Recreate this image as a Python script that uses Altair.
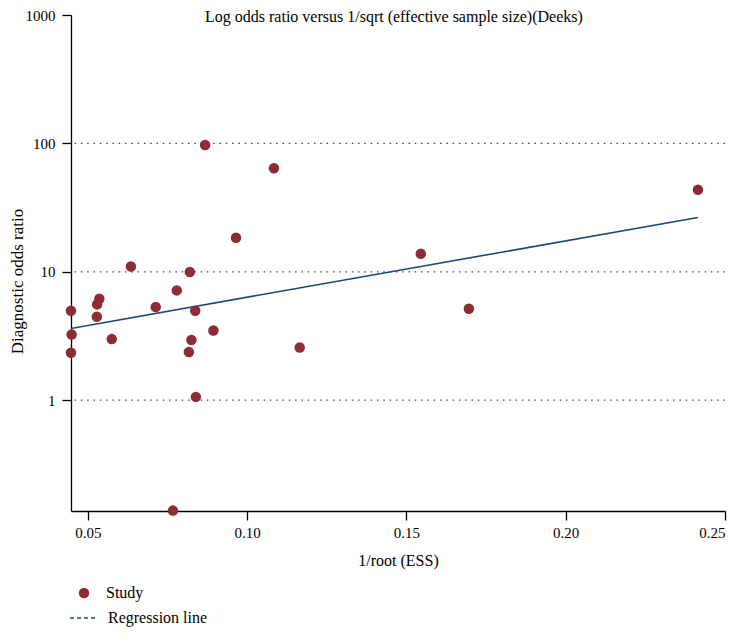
import altair as alt
import pandas as pd

# Study points: x = 1/root(ESS), y = diagnostic odds ratio
study_x = [0.0868, 0.1084, 0.0965, 0.0635, 0.0820, 0.0779, 0.0536, 0.0529,
           0.0713, 0.0447, 0.0837, 0.0528, 0.0449, 0.0575, 0.0894, 0.0825,
           0.0447, 0.0817, 0.1165, 0.0839, 0.0767, 0.1545, 0.1696, 0.2415]
study_y = [97.2, 64.0, 18.4, 11.0, 9.95, 7.16, 6.16, 5.57,
           5.31, 4.97, 4.97, 4.46, 3.25, 2.99, 3.49, 2.94,
           2.34, 2.37, 2.57, 1.06, 0.138, 13.8, 5.15, 43.5]

# Regression line end points
reg_x = [0.0447, 0.2415]
reg_y = [3.62, 26.5]

grid_values = [1, 10, 100]
y_ticks = [1, 10, 100, 1000]
x_ticks = [0.05, 0.10, 0.15, 0.20, 0.25]

x_domain = [0.0447, 0.25]
y_domain = [0.137, 1000]

FONT = "Liberation Serif"
POINT_COLOR = "#8E2C36"
LINE_COLOR = "#1B4A72"

pts = pd.DataFrame({"x": study_x, "y": study_y, "series": ["Study"] * len(study_x)})
reg = pd.DataFrame({"x": reg_x, "y": reg_y, "series": ["Regression line"] * len(reg_x)})
grid = pd.DataFrame({"y": grid_values})

xscale = alt.Scale(domain=x_domain, nice=False, zero=False)
yscale = alt.Scale(type="log", domain=y_domain, nice=False)

xaxis = alt.Axis(values=x_ticks, format=".2f", title="1/root (ESS)", grid=False,
                 tickSize=9, labelPadding=5, titlePadding=12)
yaxis = alt.Axis(values=y_ticks, format="d", title="Diagnostic odds ratio", grid=False,
                 tickSize=9, labelPadding=7, titleFontSize=17,
                 titleX=-45, titleY=266, titleAngle=270, titleBaseline="bottom",
                 titleAlign="center")

gridlines = alt.Chart(grid).mark_rule(color="#444444", strokeDash=[1.5, 4.8], strokeWidth=1.3).encode(
    y=alt.Y("y:Q", scale=yscale, axis=yaxis)
)

points = alt.Chart(pts).mark_point(filled=True, size=110, opacity=1, shape="circle").encode(
    x=alt.X("x:Q", scale=xscale, axis=xaxis),
    y=alt.Y("y:Q", scale=yscale, axis=yaxis),
    color=alt.Color("series:N", scale=alt.Scale(domain=["Study"], range=[POINT_COLOR]),
                    legend=alt.Legend(title=None, orient="none", legendX=5, legendY=570,
                                      symbolSize=110, symbolType="circle",
                                      labelOffset=14, labelFontSize=16, labelFont=FONT,
                                      labelColor="black")),
)

line = alt.Chart(reg).mark_line(strokeWidth=1.6).encode(
    x=alt.X("x:Q", scale=xscale, axis=xaxis),
    y=alt.Y("y:Q", scale=yscale, axis=yaxis),
    stroke=alt.Stroke("series:N", scale=alt.Scale(domain=["Regression line"], range=[LINE_COLOR]),
                      legend=alt.Legend(title=None, orient="none", legendX=-2, legendY=588,
                                        symbolType="stroke", symbolSize=784,
                                        symbolDash=[4, 3], symbolStrokeWidth=1.3,
                                        labelOffset=9, labelFontSize=16, labelFont=FONT,
                                        labelColor="black")),
)

chart = alt.layer(gridlines, line, points).resolve_scale(
    color="independent", stroke="independent"
).properties(
    width=654,
    height=496,
    autosize=alt.AutoSizeParams(type="none"),
    padding={"left": 63, "top": 7, "right": 3, "bottom": 120},
    title=alt.TitleParams(
        "Log odds ratio versus 1/sqrt (effective sample size)(Deeks)",
        anchor="start", frame="group", dx=134, dy=17, offset=0,
        font=FONT, fontSize=16, fontWeight="normal", color="black",
    ),
).configure_view(strokeWidth=0).configure_axis(
    labelFont=FONT, titleFont=FONT, labelFontSize=15, titleFontSize=16,
    titleFontWeight="normal", labelColor="black", titleColor="black",
    domainColor="black", tickColor="black", domainWidth=1.3, tickWidth=1.3,
)

chart.save("out.html", embed_options={"renderer": "svg", "actions": False})
